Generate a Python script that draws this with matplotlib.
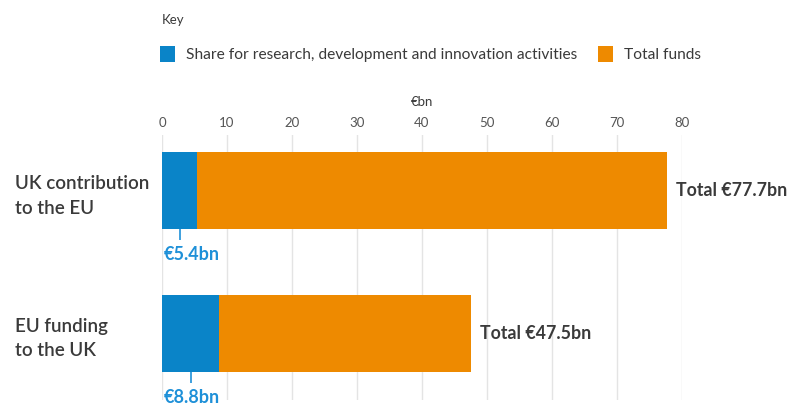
import matplotlib.pyplot as plt

categories = ["UK contribution\nto the EU", "EU funding\nto the UK"]
totals = [77.7, 47.5]
research_share = [5.4, 8.8]
share_labels = ["€5.4bn", "€8.8bn"]
total_labels = ["Total €77.7bn", "Total €47.5bn"]
xticks = [0, 10, 20, 30, 40, 50, 60, 70, 80]

blue = "#0a84c8"
orange = "#ee8a00"
label_blue = "#1e90d8"
dark = "#3a3a3a"

plt.rcParams['font.family'] = ['Lato', 'DejaVu Sans']

fig = plt.figure(figsize=(7.91, 4.05), dpi=100)
ax = fig.add_axes([162 / 791, 5 / 405, 520 / 791, 265 / 405])

ypos = list(range(len(categories)))
h = 0.54
b_tot = ax.barh(ypos, totals, height=h, color=orange, zorder=2, label="Total funds")
b_res = ax.barh(ypos, research_share, height=h, color=blue, zorder=3,
                label="Share for research, development and innovation activities")

for y, tot, sh, sl, tl in zip(ypos, totals, research_share, share_labels, total_labels):
    ax.annotate(tl, (tot, y), xytext=(6.5, 0), textcoords="offset points",
                va="center", ha="left", fontsize=12.8, fontweight="bold", color=dark)
    ax.vlines(sh / 2, y + h / 2, y + 0.35, color=label_blue, lw=1.2, zorder=3)
    ax.text(0.2, y + 0.45, sl, ha="left", va="center", fontsize=13,
            fontweight="bold", color=label_blue, clip_on=False)

ax.set_xlim(0, 80)
ax.set_ylim(1.47, -0.39)
ax.set_xticks(xticks)
ax.xaxis.tick_top()
ax.tick_params(axis="x", length=0, pad=4, labelsize=9.5, labelcolor="#555555")
ax.set_yticks(ypos)
ax.set_yticklabels(categories, fontsize=13.5, color=dark, fontweight="semibold",
                   ha="left", linespacing=1.55)
ax.tick_params(axis="y", length=0, pad=106)
ax.xaxis.set_label_position("top")
ax.set_xlabel("€bn", fontsize=9.5, color=dark, labelpad=8)
ax.grid(axis="x", color="#e4e4e4", lw=1, zorder=0)
for s in ax.spines.values():
    s.set_visible(False)

fig.text(162 / 791, 1 - 20 / 405, "Key", fontsize=9.5, color=dark, va="center")
fig.legend(handles=[b_res, b_tot], loc="center left",
           bbox_to_anchor=(152 / 791, 1 - 54 / 405), ncol=2, frameon=False,
           fontsize=11.2, handlelength=1.0, handleheight=1.3, handletextpad=0.7,
           columnspacing=1.3, labelcolor=dark, borderpad=0, borderaxespad=0.5)

fig.savefig("out.png", dpi=100, facecolor="white")
